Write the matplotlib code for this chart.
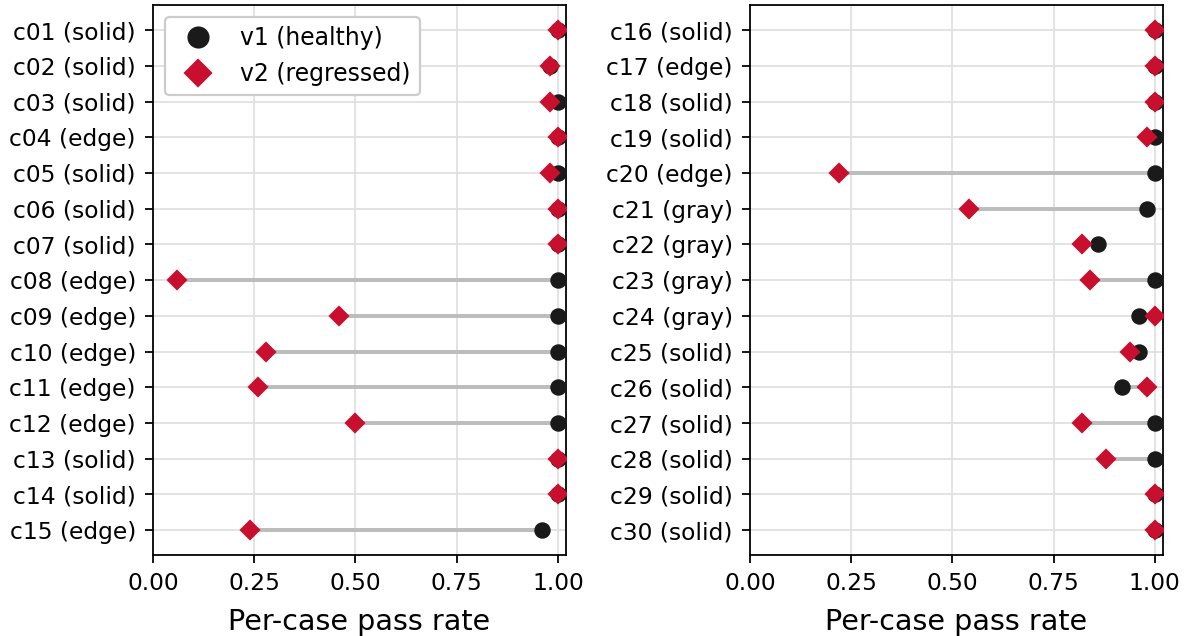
import matplotlib
matplotlib.use("Agg")
import matplotlib.pyplot as plt
import numpy as np

cases_left = ["c01 (solid)", "c02 (solid)", "c03 (solid)", "c04 (edge)", "c05 (solid)",
              "c06 (solid)", "c07 (solid)", "c08 (edge)", "c09 (edge)", "c10 (edge)",
              "c11 (edge)", "c12 (edge)", "c13 (solid)", "c14 (solid)", "c15 (edge)"]
v1_left = [1.00, 0.98, 1.00, 1.00, 1.00, 1.00, 1.00, 1.00, 1.00, 1.00, 1.00, 1.00, 1.00, 1.00, 0.96]
v2_left = [1.00, 0.98, 0.98, 1.00, 0.98, 1.00, 1.00, 0.06, 0.46, 0.28, 0.26, 0.50, 1.00, 1.00, 0.24]

cases_right = ["c16 (solid)", "c17 (edge)", "c18 (solid)", "c19 (solid)", "c20 (edge)",
               "c21 (gray)", "c22 (gray)", "c23 (gray)", "c24 (gray)", "c25 (solid)",
               "c26 (solid)", "c27 (solid)", "c28 (solid)", "c29 (solid)", "c30 (solid)"]
v1_right = [1.00, 1.00, 1.00, 1.00, 1.00, 0.98, 0.86, 1.00, 0.96, 0.96, 0.92, 1.00, 1.00, 1.00, 1.00]
v2_right = [1.00, 1.00, 1.00, 0.98, 0.22, 0.54, 0.82, 0.84, 1.00, 0.94, 0.98, 0.82, 0.88, 1.00, 1.00]

RED = "#c8102e"
BLACK = "#1a1a1a"

DPI = 160
fig, axes = plt.subplots(1, 2, figsize=(1189 / DPI, 636 / DPI), dpi=DPI)
fig.subplots_adjust(left=0.1287, right=0.978, top=0.992, bottom=0.127, wspace=0.4455)

panels = [(cases_left, v1_left, v2_left), (cases_right, v1_right, v2_right)]
for i, (ax, (cases, v1, v2)) in enumerate(zip(axes, panels)):
    y = np.arange(len(cases))
    ax.hlines(y, v2, v1, color="#bdbdbd", lw=1.8, zorder=2)
    ax.plot(v1, y, "o", color=BLACK, markersize=6.4, zorder=3, label="v1 (healthy)")
    ax.plot(v2, y, "D", color=RED, markersize=5.7, zorder=4, label="v2 (regressed)")
    ax.set_yticks(y)
    ax.set_yticklabels(cases)
    ax.set_ylim(len(cases) - 1 + 0.7, -0.7)
    ax.set_xlim(0, 1.02)
    ax.set_xticks([0, 0.25, 0.5, 0.75, 1.0])
    ax.set_xticklabels(["0.00", "0.25", "0.50", "0.75", "1.00"])
    ax.tick_params(labelsize=10.5, pad=4.2)
    ax.set_xlabel("Per-case pass rate", fontsize=12.9, labelpad=5.5)
    ax.grid(True, color="#e0e0e0", lw=0.8, zorder=0)
    ax.set_axisbelow(True)
    if i == 0:
        ax.legend(loc="upper left", fontsize=10.6, markerscale=1.4, framealpha=1,
                  edgecolor="#cccccc")

plt.savefig("out.png", dpi=DPI)
